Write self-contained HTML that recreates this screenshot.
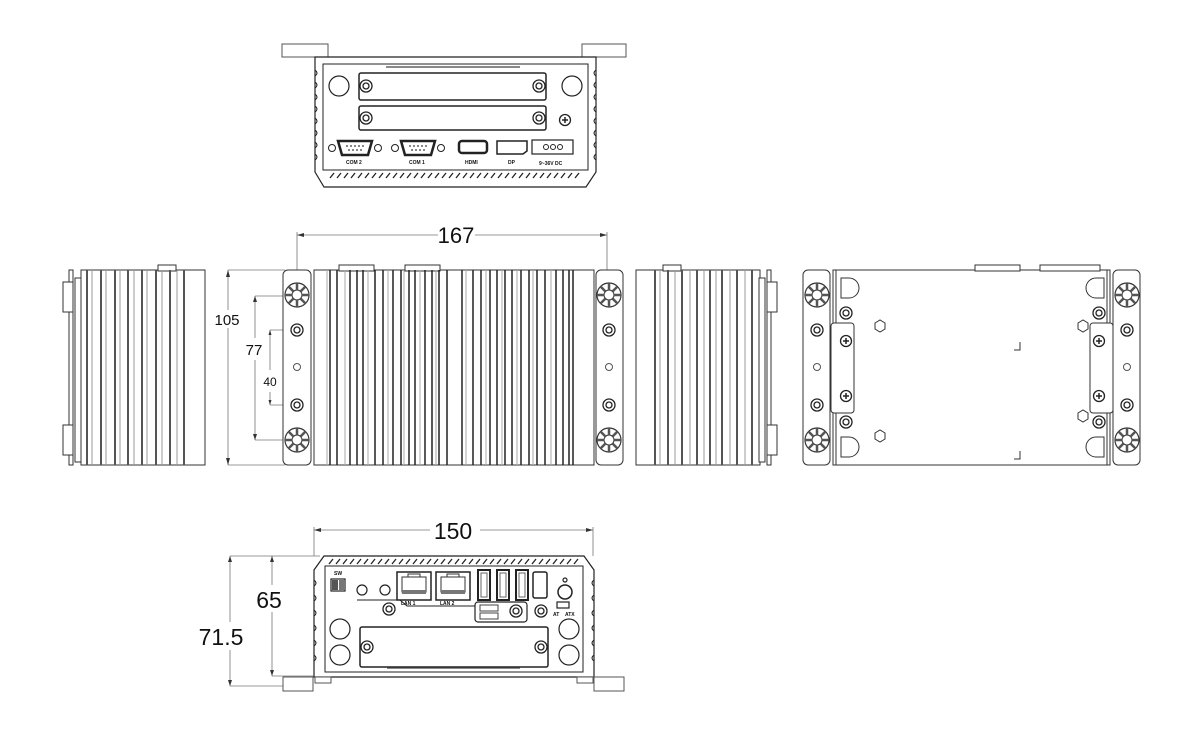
<!DOCTYPE html>
<html><head><meta charset="utf-8"><style>
html,body{margin:0;padding:0;background:#fff}
svg{display:block}
text{font-family:"Liberation Sans",sans-serif;fill:#111}
</style></head><body>
<svg width="1200" height="750" viewBox="0 0 1200 750" xmlns="http://www.w3.org/2000/svg">
<defs>
<g id="nut"><circle r="12" fill="#fff" stroke="#333" stroke-width="1.2"/><circle r="5" fill="#fff" stroke="#333"/>
<path d="M0-12V-5M0 5V12M-12 0H-5M5 0H12M-8.5-8.5L-3.5-3.5M3.5 3.5L8.5 8.5M-8.5 8.5L-3.5 3.5M3.5-3.5L8.5-8.5" stroke="#555" stroke-width="2.5"/></g>
<g id="ring"><circle r="6" fill="#fff" stroke="#222" stroke-width="1.3"/><circle r="3" fill="none" stroke="#222" stroke-width="1.3"/></g>
<g id="phil"><circle r="5.5" fill="#fff" stroke="#222" stroke-width="1.3"/><path d="M-3 0H3M0-3V3" stroke="#222" stroke-width="1.5"/></g>
<g id="db9"><circle cx="-23" r="3.5" fill="none" stroke="#222"/><circle cx="23" r="3.5" fill="none" stroke="#222"/><path d="M-17-7H17L13 7H-13Z" fill="#fff" stroke="#222" stroke-width="2.5"/><g fill="#333"><circle cx="-8" cy="-2" r=".9"/><circle cx="-4" cy="-2" r=".9"/><circle cx="0" cy="-2" r=".9"/><circle cx="4" cy="-2" r=".9"/><circle cx="8" cy="-2" r=".9"/><circle cx="-6" cy="2" r=".9"/><circle cx="-2" cy="2" r=".9"/><circle cx="2" cy="2" r=".9"/><circle cx="6" cy="2" r=".9"/></g></g>
<g id="usb"><rect x="-6" y="-15" width="12" height="30" fill="#fff" stroke="#222" stroke-width="2"/><rect x="-3" y="-12" width="6" height="24" fill="none" stroke="#666"/></g>
<g id="rj"><rect x="-17" y="-15" width="34" height="28" fill="#fff" stroke="#222" stroke-width="1.5"/><path d="M-12-10H12V5H-12Z" fill="none" stroke="#333"/><path d="M-6-10V-13H6V-10" fill="none" stroke="#333"/><rect x="-12" y="3" width="24" height="4" fill="#777"/></g>
</defs>

<!-- ============ TOP VIEW (rear panel) ============ -->
<g stroke="#222" fill="none" stroke-width="1.2">
 <rect x="282" y="44" width="46" height="13" fill="#fff" stroke="#555" stroke-width="1"/>
 <rect x="582" y="44" width="44" height="13" fill="#fff" stroke="#555" stroke-width="1"/>
 <path d="M315 57H596V172L586 187H324L315 172Z" fill="#fff"/>
 <path d="M323 64H588V170H323Z" stroke-width="1"/>
 <path d="M386 67H520" stroke="#444"/>
 <path d="M315 70q4 3 0 6M315 82q4 3 0 6M315 94q4 3 0 6M315 106q4 3 0 6M315 118q4 3 0 6M315 130q4 3 0 6M315 142q4 3 0 6M315 154q4 3 0 6M596 70q-4 3 0 6M596 82q-4 3 0 6M596 94q-4 3 0 6M596 106q-4 3 0 6M596 118q-4 3 0 6M596 130q-4 3 0 6M596 142q-4 3 0 6M596 154q-4 3 0 6" stroke-width="1"/>
 <path d="M330 178l4-5M337 178l4-5M344 178l4-5M351 178l4-5M358 178l4-5M365 178l4-5M372 178l4-5M379 178l4-5M386 178l4-5M393 178l4-5M400 178l4-5M407 178l4-5M414 178l4-5M421 178l4-5M428 178l4-5M435 178l4-5M442 178l4-5M449 178l4-5M456 178l4-5M463 178l4-5M470 178l4-5M477 178l4-5M484 178l4-5M491 178l4-5M498 178l4-5M505 178l4-5M512 178l4-5M519 178l4-5M526 178l4-5M533 178l4-5M540 178l4-5M547 178l4-5M554 178l4-5M561 178l4-5M568 178l4-5M575 178l4-5" stroke-width="1.3"/>
 <rect x="359" y="73" width="187" height="27" rx="2" stroke-width="1.5"/>
 <rect x="359" y="106" width="187" height="24" rx="2" stroke-width="1.5"/>
 <circle cx="339" cy="86" r="10"/><circle cx="572" cy="86" r="10"/>
</g>
<use href="#ring" x="366" y="86"/><use href="#ring" x="539" y="86"/>
<use href="#ring" x="366" y="118"/><use href="#ring" x="539" y="118"/>
<use href="#phil" x="565" y="120"/>
<use href="#db9" x="355" y="148"/><use href="#db9" x="418" y="148"/>
<g stroke="#222" fill="#fff">
 <rect x="459" y="141" width="28" height="12" rx="3" stroke-width="2.5"/>
 <path d="M497 141H527V151L523 154H497Z" stroke-width="1.5"/>
 <rect x="532" y="140" width="41" height="14" stroke-width="1.2"/>
 <circle cx="546" cy="147" r="2.5"/><circle cx="553" cy="147" r="2.5"/><circle cx="560" cy="147" r="2.5"/>
</g>
<g font-size="5" font-weight="bold"><text x="346" y="164">COM 2</text><text x="409" y="164">COM 1</text><text x="465" y="164">HDMI</text><text x="508" y="164">DP</text><text x="539" y="165">9~36V DC</text></g>

<!-- ============ MIDDLE ROW ============ -->
<!-- dim 167 -->
<g stroke="#777" stroke-width="0.8" fill="none">
 <path d="M297 235H438M475 235H607"/><path d="M297 232V283M607 232V283"/>
 <path d="M228 270H285M228 465H285M255 296H300M255 440H300M270 330H300M270 405H300"/>
 <path d="M228 270V310M228 328V465M255 296V338M255 360V440M270 330V370M270 392V405"/>
</g>
<g fill="#333"><path d="M297 235l7-2v4zM607 235l-7-2v4zM228 270l-2 7h4zM228 465l-2-7h4zM255 296l-2 6h4zM255 440l-2-6h4zM270 330l-1.5 5h3zM270 405l-1.5-5h3z"/></g>
<text x="456" y="243" font-size="22" text-anchor="middle">167</text>
<text x="227" y="325" font-size="15" text-anchor="middle">105</text>
<text x="254" y="355" font-size="15" text-anchor="middle">77</text>
<text x="270" y="386" font-size="12" text-anchor="middle">40</text>

<!-- left side view -->
<g stroke="#333" fill="#fff" stroke-width="1">
 <rect x="69" y="270" width="4" height="195"/>
 <rect x="63" y="282" width="10" height="30"/><rect x="63" y="425" width="10" height="30"/>
 <rect x="75" y="278" width="6" height="184"/>
 <rect x="81" y="270" width="124" height="195"/>
 <rect x="158" y="265" width="18" height="6"/>
</g>
<g stroke="#555" stroke-width="2"><path d="M87 270V465M101 270V465M115 270V465M128 270V465M142 270V465M156 270V465M170 270V465M184 270V465"/></g>
<g stroke="#999" stroke-width="1"><path d="M92 270V465M106 270V465M120 270V465M134 270V465M147 270V465M162 270V465M177 270V465"/></g>

<!-- main side view -->
<g stroke="#333" fill="#fff" stroke-width="1">
 <rect x="283" y="270" width="28" height="195" rx="5"/>
 <rect x="596" y="270" width="27" height="195" rx="5"/>
 <rect x="314" y="270" width="280" height="195"/>
 <rect x="339" y="265" width="35" height="6"/><rect x="405" y="265" width="35" height="6"/>
</g>
<g stroke="#222" stroke-width="1.5"><path d="M330 270V465M337 270V465M350 270V465M357 270V465M363 270V465M375 270V465M383 270V465M393 270V465M401 270V465M409 270V465M415 270V465M425 270V465M432 270V465M439 270V465M447 270V465M462 270V465M473 270V465M481 270V465M490 270V465M497 270V465M505 270V465M512 270V465M521 270V465M529 270V465M537 270V465M545 270V465M556 270V465M563 270V465M569 270V465M573 270V465"/></g>
<g stroke="#aaa" stroke-width="1"><path d="M327 270V465M345 270V465M368 270V465M388 270V465M404 270V465M420 270V465M436 270V465M466 270V465M486 270V465M502 270V465M517 270V465M533 270V465M551 270V465"/></g>
<use href="#nut" x="297" y="295"/><use href="#nut" x="297" y="440"/><use href="#nut" x="609" y="295"/><use href="#nut" x="609" y="440"/>
<use href="#ring" x="297" y="330"/><use href="#ring" x="297" y="405"/><use href="#ring" x="609" y="330"/><use href="#ring" x="609" y="405"/>
<circle cx="297" cy="367" r="3.5" fill="none" stroke="#555"/><circle cx="609" cy="367" r="3.5" fill="none" stroke="#555"/>

<!-- right side view -->
<g stroke="#333" fill="#fff" stroke-width="1">
 <rect x="636" y="270" width="124" height="195"/>
 <rect x="663" y="265" width="18" height="6"/>
 <rect x="759" y="278" width="6" height="184"/>
 <rect x="767" y="270" width="4" height="195"/>
 <rect x="767" y="282" width="10" height="30"/><rect x="767" y="425" width="10" height="30"/>
</g>
<g stroke="#555" stroke-width="2"><path d="M655 270V465M668 270V465M682 270V465M697 270V465M710 270V465M722 270V465M737 270V465M752 270V465"/></g>
<g stroke="#999" stroke-width="1"><path d="M660 270V465M675 270V465M690 270V465M704 270V465M716 270V465M730 270V465M745 270V465"/></g>

<!-- bottom view -->
<g stroke="#333" fill="#fff" stroke-width="1">
 <rect x="803" y="270" width="27" height="195" rx="5"/>
 <rect x="1113" y="270" width="27" height="195" rx="5"/>
 <rect x="833" y="270" width="277" height="195"/>
 <path d="M836 270V465M1107 270V465"/>
 <rect x="975" y="265" width="45" height="6"/><rect x="1040" y="265" width="60" height="6"/>
 <rect x="831" y="323" width="23" height="90" rx="3"/><rect x="1090" y="323" width="23" height="90" rx="3"/>
 <path d="M841 278h8a10 10 0 0 1 0 20h-8z"/><path d="M841 437h8a10 10 0 0 1 0 20h-8z"/>
 <path d="M1104 278h-8a10 10 0 0 0 0 20h8z"/><path d="M1104 437h-8a10 10 0 0 0 0 20h8z"/>
 <path d="M875 323l5-3 5 3v6l-5 3-5-3zM875 433l5-3 5 3v6l-5 3-5-3zM1078 323l5-3 5 3v6l-5 3-5-3zM1078 413l5-3 5 3v6l-5 3-5-3z"/>
 <path d="M1020 342V350H1014M1020 451V459H1014" fill="none"/>
</g>
<use href="#nut" x="817" y="295"/><use href="#nut" x="817" y="440"/><use href="#nut" x="1127" y="295"/><use href="#nut" x="1127" y="440"/>
<use href="#ring" x="817" y="330"/><use href="#ring" x="817" y="405"/><use href="#ring" x="1127" y="330"/><use href="#ring" x="1127" y="405"/>
<use href="#ring" x="846" y="313"/><use href="#ring" x="846" y="422"/><use href="#ring" x="1099" y="313"/><use href="#ring" x="1099" y="422"/>
<use href="#phil" x="846" y="341"/><use href="#phil" x="846" y="396"/><use href="#phil" x="1099" y="341"/><use href="#phil" x="1099" y="396"/>
<circle cx="817" cy="367" r="3.5" fill="none" stroke="#555"/><circle cx="1127" cy="367" r="3.5" fill="none" stroke="#555"/>

<!-- ============ FRONT VIEW ============ -->
<g stroke="#777" stroke-width="0.8" fill="none">
 <path d="M314 530H430M480 530H593M314 527V556M593 527V556"/>
 <path d="M230 556H320M272 676H320M230 686H290"/>
 <path d="M272 556V585M272 612V676M230 556V622M230 650V686"/>
</g>
<g fill="#333"><path d="M314 530l7-2v4zM593 530l-7-2v4zM272 556l-2 6h4zM272 676l-2-6h4zM230 556l-2 6h4zM230 686l-2-6h4z"/></g>
<text x="453" y="539" font-size="23" text-anchor="middle">150</text>
<text x="269" y="608" font-size="23" text-anchor="middle">65</text>
<text x="221" y="645" font-size="23" text-anchor="middle">71.5</text>
<g stroke="#222" fill="none" stroke-width="1.2">
 <path d="M324 556H584L594 570V677H314V570Z" fill="#fff"/>
 <path d="M325 566H583V672H325Z" stroke-width="1"/>
 <path d="M329 564l4-5M336 564l4-5M343 564l4-5M350 564l4-5M357 564l4-5M364 564l4-5M371 564l4-5M378 564l4-5M385 564l4-5M392 564l4-5M399 564l4-5M406 564l4-5M413 564l4-5M420 564l4-5M427 564l4-5M434 564l4-5M441 564l4-5M448 564l4-5M455 564l4-5M462 564l4-5M469 564l4-5M476 564l4-5M483 564l4-5M490 564l4-5M497 564l4-5M504 564l4-5M511 564l4-5M518 564l4-5M525 564l4-5M532 564l4-5M539 564l4-5M546 564l4-5M553 564l4-5M560 564l4-5M567 564l4-5M574 564l4-5" stroke-width="1.3"/>
 <path d="M314 580q4 3 0 6M314 595q4 3 0 6M314 610q4 3 0 6M314 625q4 3 0 6M314 640q4 3 0 6M314 655q4 3 0 6M594 580q-4 3 0 6M594 595q-4 3 0 6M594 610q-4 3 0 6M594 625q-4 3 0 6M594 640q-4 3 0 6M594 655q-4 3 0 6" stroke-width="1"/>
 <rect x="360" y="627" width="188" height="40" rx="2" stroke-width="1.5"/>
 <path d="M387 668H520" stroke="#444"/>
 <circle cx="340" cy="629" r="10"/><circle cx="340" cy="655" r="10"/><circle cx="569" cy="629" r="10"/><circle cx="569" cy="655" r="10"/>
 <path d="M357 600H400L407 606H475" stroke-width="1"/>
 <rect x="475" y="602" width="52" height="20" rx="3"/>
 <rect x="331" y="579" width="14" height="12" stroke-width="1.2"/>
 <circle cx="362" cy="590" r="5"/><circle cx="385" cy="590" r="5"/>
 <circle cx="565" cy="592" r="7" stroke-width="1.5"/><circle cx="565" cy="580" r="2"/>
 <rect x="533" y="572" width="14" height="26" rx="2" stroke-width="1.5"/>
 <rect x="557" y="602" width="12" height="6"/>
</g>
<rect x="332" y="580" width="6" height="10" fill="#555"/><rect x="339" y="580" width="5" height="10" fill="#777"/>
<use href="#rj" x="414" y="587"/><use href="#rj" x="453" y="587"/>
<use href="#usb" x="484" y="585"/><use href="#usb" x="503" y="585"/><use href="#usb" x="522" y="585"/>
<use href="#ring" x="389" y="609"/><use href="#ring" x="516" y="611"/><use href="#ring" x="541" y="611"/>
<use href="#ring" x="367" y="647"/><use href="#ring" x="541" y="647"/>
<g stroke="#444" fill="#fff"><rect x="480" y="605" width="18" height="6"/><rect x="480" y="613" width="18" height="6"/></g>
<g font-size="5" font-weight="bold"><text x="334" y="575">SW</text><text x="401" y="605">LAN 1</text><text x="440" y="605">LAN 2</text><text x="553" y="616">AT</text><text x="565" y="616">ATX</text></g>

<!-- bottom brackets -->
<g stroke="#555" fill="#fff" stroke-width="1">
 <rect x="283" y="677" width="30" height="14"/><rect x="315" y="677" width="16" height="6"/>
 <rect x="594" y="677" width="30" height="14"/><rect x="577" y="677" width="16" height="6"/>
</g>
</svg>
</body></html>
